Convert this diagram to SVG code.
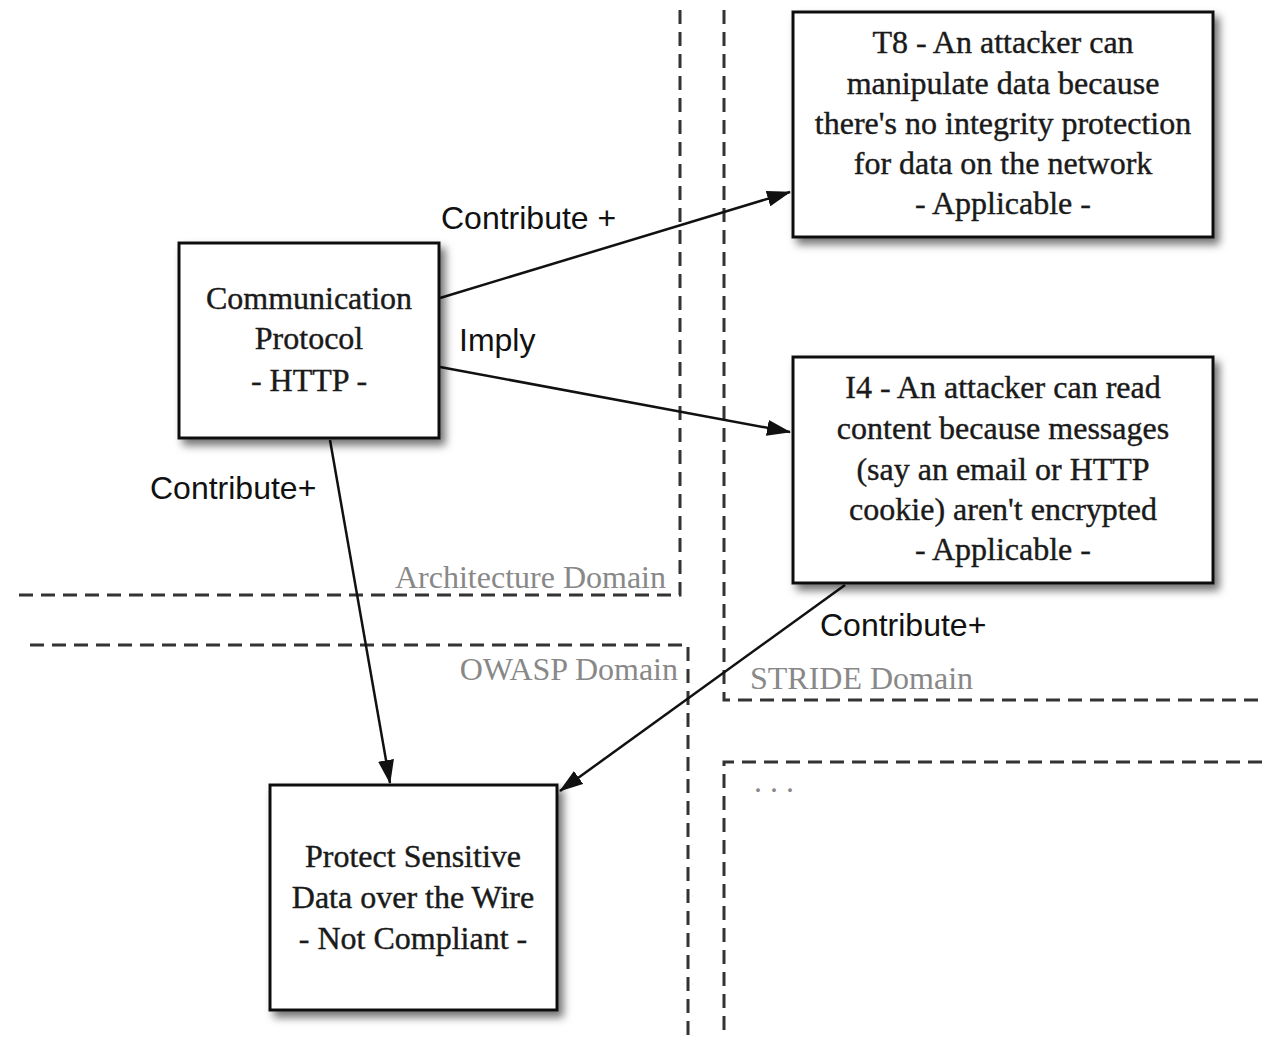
<svg xmlns="http://www.w3.org/2000/svg" width="1262" height="1037" viewBox="0 0 1262 1037">
<defs>
<style>
.dash{fill:none;stroke:#333;stroke-width:3;stroke-dasharray:14 8}
.box{fill:#fff;stroke:#111;stroke-width:3;filter:url(#sh)}
.nt{font-family:"Liberation Serif",serif;font-size:32px;fill:#1a1a1a;stroke:#1a1a1a;stroke-width:0.4;text-anchor:middle}
.el{font-family:"Liberation Sans",sans-serif;font-size:32px;fill:#111}
.dl{font-family:"Liberation Serif",serif;font-size:32px;fill:#888}
.edge{stroke:#111;stroke-width:2.5;fill:none;marker-end:url(#ah)}
</style>
<filter id="sh" x="-10%" y="-10%" width="130%" height="130%">
<feDropShadow dx="5" dy="6" stdDeviation="4" flood-color="#000" flood-opacity="0.55"/>
</filter>
<marker id="ah" viewBox="0 0 24 16" refX="23" refY="8" markerWidth="24" markerHeight="16" markerUnits="userSpaceOnUse" orient="auto">
<path d="M0,0 L24,8 L0,16 z" fill="#111"/>
</marker>
</defs>
<rect width="1262" height="1037" fill="#fff"/>
<g id="domains">
<path class="dash" d="M680,10 V595 H12"/>
<path class="dash" d="M724,10 V700 H1262"/>
<path class="dash" d="M30,645 H688 V1037"/>
<path class="dash" d="M1262,762 H724 V1037"/>
<text class="dl" x="666" y="588" text-anchor="end">Architecture Domain</text>
<text class="dl" x="678" y="680" text-anchor="end">OWASP Domain</text>
<text class="dl" x="750" y="689">STRIDE Domain</text>
<text class="dl" x="754" y="792">. . .</text>
</g>
<g id="connectors">
<line class="edge" x1="440" y1="298" x2="790" y2="192"/>
<line class="edge" x1="440" y1="367" x2="790" y2="432"/>
<line class="edge" x1="330" y1="440" x2="390" y2="783"/>
<line class="edge" x1="845" y1="585" x2="560" y2="791"/>
<text class="el" x="441" y="229">Contribute +</text>
<text class="el" x="459" y="351">Imply</text>
<text class="el" x="150" y="499">Contribute+</text>
<text class="el" x="820" y="636">Contribute+</text>
</g>
<g id="n-comm">
<rect class="box" x="179" y="243" width="260" height="195"/>
<text class="nt" x="309" y="309">Communication</text>
<text class="nt" x="309" y="349">Protocol</text>
<text class="nt" x="309" y="391">- HTTP -</text>
</g>
<g id="n-t8">
<rect class="box" x="793" y="12" width="420" height="225"/>
<text class="nt" x="1003" y="53">T8 - An attacker can</text>
<text class="nt" x="1003" y="94">manipulate data because</text>
<text class="nt" x="1003" y="134">there's no integrity protection</text>
<text class="nt" x="1003" y="174">for data on the network</text>
<text class="nt" x="1003" y="214">- Applicable -</text>
</g>
<g id="n-i4">
<rect class="box" x="793" y="357" width="420" height="226"/>
<text class="nt" x="1003" y="398">I4 - An attacker can read</text>
<text class="nt" x="1003" y="439">content because messages</text>
<text class="nt" x="1003" y="480">(say an email or HTTP</text>
<text class="nt" x="1003" y="520">cookie) aren't encrypted</text>
<text class="nt" x="1003" y="560">- Applicable -</text>
</g>
<g id="n-protect">
<rect class="box" x="270" y="785" width="287" height="225"/>
<text class="nt" x="413" y="867">Protect Sensitive</text>
<text class="nt" x="413" y="908">Data over the Wire</text>
<text class="nt" x="413" y="949">- Not Compliant -</text>
</g>
</svg>
